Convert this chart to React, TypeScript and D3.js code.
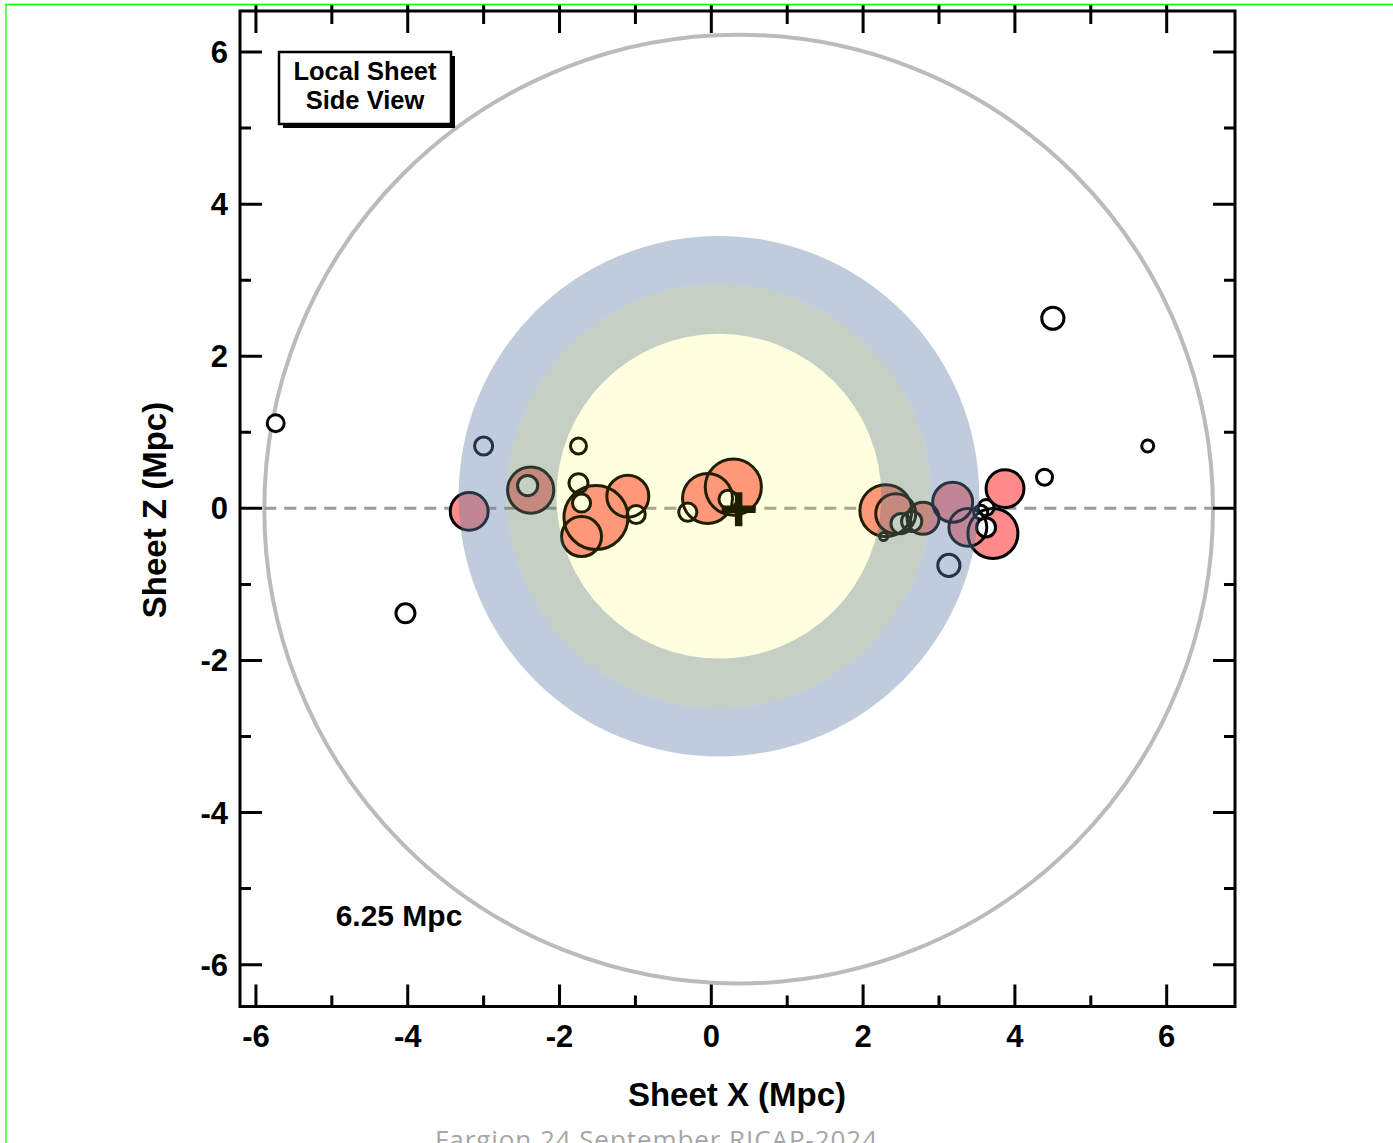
import React from 'react';
import * as d3 from 'd3';

const W = 1393;
const H = 1143;

// Bright galaxies (filled markers): sheet coordinates in Mpc and relative luminosity
const brightX = [-3.19, -2.38, -1.52, -1.71, -1.1, -0.05, 0.29, 2.3, 2.43, 2.79, 3.18, 3.38, 3.71, 3.87];
const brightZ = [-0.04, 0.24, -0.12, -0.37, 0.16, 0.13, 0.28, -0.03, -0.07, -0.13, 0.08, -0.25, -0.33, 0.26];
const brightL = [0.35, 0.52, 1.0, 0.39, 0.43, 0.61, 0.77, 0.66, 0.39, 0.25, 0.39, 0.35, 0.61, 0.35];

// Faint galaxies (open markers)
const faintX = [-5.74, -4.03, -3.0, -2.42, -1.75, -1.75, -1.71, -0.99, -0.31, 0.22, 2.27, 2.5, 2.64, 3.13, 3.62, 3.55, 3.62, 4.39, 4.5, 5.75];
const faintZ = [1.12, -1.38, 0.82, 0.3, 0.82, 0.33, 0.07, -0.08, -0.05, 0.12, -0.37, -0.2, -0.17, -0.75, 0.01, -0.05, -0.25, 0.41, 2.5, 0.82];
const faintL = [0.07, 0.088, 0.08, 0.1, 0.0625, 0.088, 0.08, 0.08, 0.08, 0.08, 0.016, 0.1, 0.1, 0.12, 0.0625, 0.048, 0.088, 0.0625, 0.12, 0.035];

// Observer position and the 6.25 Mpc sphere around it
const observer = { x: 0.36, z: -0.01 };
const sheetRadius = 6.25;

// Concentric zones of the Local Sheet (Mpc)
const zoneCenter = { x: 0.1, z: 0.16 };
const zoneEdges = [0, 2.14, 2.79, 3.43];
const zoneFills = ['rgba(255,255,0,0.12)', 'rgba(110,135,107,0.4)', 'rgba(97,127,165,0.4)'];

const majorTicks = [-6, -4, -2, 0, 2, 4, 6];
const minorTicks = [-5, -3, -1, 1, 3, 5];

const FONT = 'Liberation Sans, Arial, Helvetica, sans-serif';

export default function App() {
  const left = 240, right = 1235, top = 11, bottom = 1006.5;
  const x = d3.scaleLinear().domain([-6.21, 6.9]).range([left, right]);
  const y = d3.scaleLinear().domain([-6.55, 6.54]).range([bottom, top]);
  const r = d3.scaleSqrt().domain([0, 1]).range([0, 32]);
  const px = (d: number) => x(d) - x(0);

  const arc = d3.arc<any>();
  const zones = zoneFills.map((fill, i) => ({
    fill,
    d: arc({ innerRadius: px(zoneEdges[i]), outerRadius: px(zoneEdges[i + 1]), startAngle: 0, endAngle: 2 * Math.PI }) as string,
  }));

  const bright = brightX.map((v, i) => ({ cx: x(v), cy: y(brightZ[i]), r: r(brightL[i]) }));
  const faint = faintX.map((v, i) => ({ cx: x(v), cy: y(faintZ[i]), r: r(faintL[i]) }));

  const ox = x(observer.x), oy = y(observer.z);
  const sr = px(sheetRadius);

  const majorLen = 22, minorLen = 11;
  const tickPath: string[] = [];
  majorTicks.forEach((t) => {
    tickPath.push(`M${x(t)},${bottom}V${bottom - majorLen}`);
    tickPath.push(`M${x(t)},4V${top + majorLen}`);
    tickPath.push(`M${left},${y(t)}H${left + majorLen}`);
    tickPath.push(`M${right},${y(t)}H${right - majorLen}`);
  });
  minorTicks.forEach((t) => {
    tickPath.push(`M${x(t)},${bottom}V${bottom - minorLen}`);
    tickPath.push(`M${x(t)},4V${top + minorLen + 2}`);
    tickPath.push(`M${left},${y(t)}H${left + minorLen}`);
    tickPath.push(`M${right},${y(t)}H${right - minorLen}`);
  });

  return (
    <svg width={W} height={H} style={{ position: 'absolute', left: 0, top: 0, display: 'block', background: '#fff' }}>
      <rect x={0} y={0} width={W} height={H} fill="#fff" />

      {/* 6.25 Mpc sphere and sheet plane */}
      <circle cx={ox} cy={oy} r={sr} fill="none" stroke="#bbbbbb" strokeWidth={4} />
      <line x1={ox - sr} x2={ox + sr} y1={y(0)} y2={y(0)} stroke="#9c9c9c" strokeWidth={3} strokeDasharray="12 8" />

      {/* galaxies */}
      <g>
        {bright.map((g, i) => (
          <circle key={'bf' + i} cx={g.cx} cy={g.cy} r={g.r} fill="#ff8a8a" />
        ))}
        {faint.map((g, i) => (
          <circle key={'ff' + i} cx={g.cx} cy={g.cy} r={g.r} fill="#fff" />
        ))}
        {bright.map((g, i) => (
          <circle key={'bs' + i} cx={g.cx} cy={g.cy} r={g.r} fill="none" stroke="#000" strokeWidth={3} />
        ))}
        {faint.map((g, i) => (
          <circle key={'fs' + i} cx={g.cx} cy={g.cy} r={g.r} fill="none" stroke="#000" strokeWidth={3} />
        ))}
      </g>

      {/* observer */}
      <path d={`M${ox - 17},${oy}H${ox + 17}M${ox},${oy - 17}V${oy + 17}`} stroke="#000" strokeWidth={7.5} />

      {/* Local Sheet zones */}
      <g transform={`translate(${x(zoneCenter.x)},${y(zoneCenter.z)})`}>
        {zones.map((z, i) => (
          <path key={i} d={z.d} fill={z.fill} />
        ))}
      </g>

      {/* frame and ticks */}
      <rect x={left} y={top} width={right - left} height={bottom - top} fill="none" stroke="#000" strokeWidth={3} />
      <path d={tickPath.join('')} stroke="#000" strokeWidth={3} fill="none" />

      {majorTicks.map((t) => (
        <text key={'xt' + t} x={x(t)} y={1047} textAnchor="middle" fontFamily={FONT} fontWeight="bold" fontSize={31}>
          {t}
        </text>
      ))}
      {majorTicks.map((t) => (
        <text key={'yt' + t} x={228} y={y(t) + 11} textAnchor="end" fontFamily={FONT} fontWeight="bold" fontSize={31}>
          {t}
        </text>
      ))}

      <text x={737} y={1106} textAnchor="middle" fontFamily={FONT} fontWeight="bold" fontSize={33}>
        Sheet X (Mpc)
      </text>
      <text transform="translate(166,510) rotate(-90)" textAnchor="middle" fontFamily={FONT} fontWeight="bold" fontSize={33}>
        Sheet Z (Mpc)
      </text>

      {/* legend box */}
      <rect x={283} y={56} width={172} height={72} fill="#000" />
      <rect x={279} y={52} width={172} height={72} fill="#fff" stroke="#000" strokeWidth={2.5} />
      <text x={365} y={80} textAnchor="middle" fontFamily={FONT} fontWeight="bold" fontSize={25.5}>
        Local Sheet
      </text>
      <text x={365} y={109} textAnchor="middle" fontFamily={FONT} fontWeight="bold" fontSize={25.5}>
        Side View
      </text>

      <text x={x(-4.95)} y={y(-5.49)} fontFamily={FONT} fontWeight="bold" fontSize={30}>
        6.25 Mpc
      </text>

      {/* slide footer and border */}
      <text x={656} y={1149} textAnchor="middle" fontFamily="Open Sans, sans-serif" fontSize={26} fill="#a6a6a6" textLength={442}>
        Fargion 24 September RICAP-2024
      </text>
      <line x1={5} x2={W} y1={4.5} y2={4.5} stroke="#00ff00" strokeWidth={1.5} />
      <line x1={6} x2={6} y1={4} y2={H} stroke="#00ff00" strokeWidth={1.2} />
    </svg>
  );
}
